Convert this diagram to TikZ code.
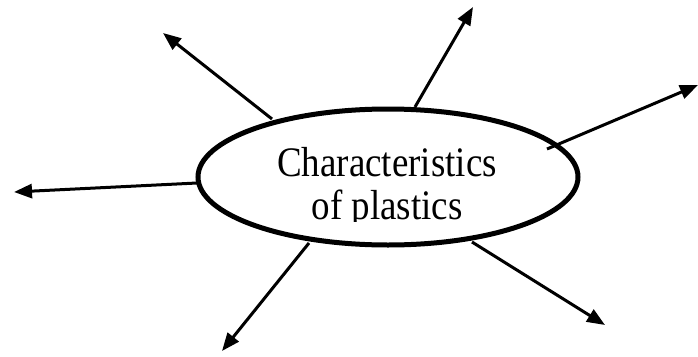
\documentclass[tikz,border=0pt]{standalone}
\usepackage{fontspec}
\setmainfont{Liberation Serif}
\usetikzlibrary{shapes.geometric,arrows.meta}
\begin{document}
\begin{tikzpicture}[x=1pt,y=-1pt,
  spoke/.style={line width=3pt,-{Triangle[length=18pt,width=14pt]}},
  bubble/.style={ellipse,draw,line width=5pt,minimum width=380pt,minimum height=136pt,inner sep=0pt},
  label/.style={font=\fontsize{42}{43}\selectfont,inner sep=0pt,anchor=base,xscale=0.88,transform shape}]
\useasboundingbox (0,0) rectangle (698,356);
% spokes
\coordinate (s1) at (272,119); \coordinate (e1) at (163,33);
\coordinate (s2) at (415,107); \coordinate (e2) at (473,7);
\coordinate (s3) at (547,149); \coordinate (e3) at (698,85);
\coordinate (s4) at (197,183); \coordinate (e4) at (14,192);
\coordinate (s5) at (309,243); \coordinate (e5) at (222,351);
\coordinate (s6) at (472,242); \coordinate (e6) at (605,325);
\draw[spoke] (s1) -- (e1);
\draw[spoke] (s2) -- (e2);
\draw[spoke] (s3) -- (e3);
\draw[spoke] (s4) -- (e4);
\draw[spoke] (s5) -- (e5);
\draw[spoke] (s6) -- (e6);
\node[bubble] (c) at (388,177) {};
\begin{scope}
\clip (220,120) rectangle (560,221);
\node[label] (t1) at (387,176) {Characteristics};
\node[label] (t2) at (387,219) {of plastics};
\end{scope}
\end{tikzpicture}
\end{document}
